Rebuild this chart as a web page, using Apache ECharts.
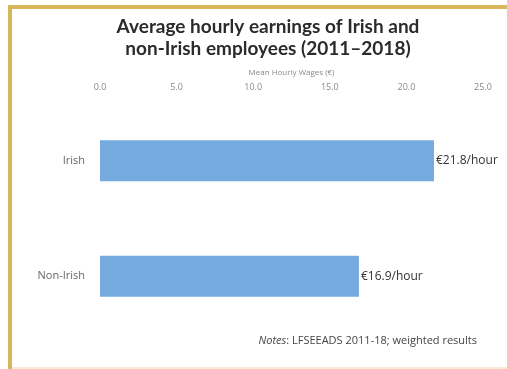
<!DOCTYPE html>
<html><head><meta charset="utf-8">
<script src="https://cdn.jsdelivr.net/npm/echarts@6/dist/echarts.min.js"></script>
<style>html,body{margin:0;padding:0;background:#fff}#c{width:507px;height:369px}</style>
</head><body><div id="c"></div>
<script>
var categories = ['Irish', 'Non-Irish'];
var wages = [21.8, 16.9];
var valueLabels = ['€21.8/hour', '€16.9/hour'];
var xTicks = [0, 5, 10, 15, 20, 25];

var chart = echarts.init(document.getElementById('c'));
chart.setOption({
  animation: false,
  backgroundColor: '#ffffff',
  title: {
    text: 'Average hourly earnings of Irish and\nnon-Irish employees (2011–2018)',
    left: 263, top: 11, textAlign: 'center',
    textStyle: { fontFamily: 'Lato', fontWeight: 'bold', fontSize: 19, lineHeight: 22, color: '#2b2b2b' }
  },
  graphic: [
    { type: 'rect', shape: { x: 8, y: 5, width: 499, height: 4 }, style: { fill: '#d8b65e' } },
    { type: 'rect', shape: { x: 8, y: 5, width: 4, height: 364 }, style: { fill: '#d8b65e' } },
    { type: 'rect', shape: { x: 12, y: 367, width: 495, height: 2 }, style: { fill: '#f6ead0' } },
    { type: 'text', right: 30, top: 335, style: { rich: { i: { fontStyle: 'italic', fontSize: 11, fontFamily: 'Open Sans', fill: '#444' }, n: { fontSize: 11, fontFamily: 'Open Sans', fill: '#444' } }, text: '{i|Notes}{n|: LFSEEADS 2011-18; weighted results}' } }
  ],
  grid: { left: 100, right: 24, top: 103, bottom: 35 },
  xAxis: {
    type: 'value', position: 'top', min: 0, max: 25, interval: 5,
    name: 'Mean Hourly Wages (€)', nameLocation: 'middle', nameGap: 26,
    nameTextStyle: { fontSize: 8, color: '#888', fontFamily: 'Open Sans' },
    axisLine: { show: false }, axisTick: { show: false }, splitLine: { show: false },
    axisLabel: { margin: 11, fontSize: 9, color: '#888', fontFamily: 'Open Sans',
      formatter: function (v) { return xTicks.indexOf(v) >= 0 ? v.toFixed(1) : ''; } }
  },
  yAxis: {
    type: 'category', data: categories, inverse: true,
    axisLine: { show: false }, axisTick: { show: false },
    axisLabel: { margin: 15, fontSize: 11, color: '#666', fontFamily: 'Open Sans' }
  },
  series: [{
    type: 'bar', data: wages, barWidth: 41,
    itemStyle: { color: '#75abde' },
    label: { show: true, position: 'right', distance: 2, fontSize: 12, color: '#333', fontFamily: 'Open Sans',
      formatter: function (p) { return valueLabels[p.dataIndex]; } }
  }]
});
</script></body></html>
